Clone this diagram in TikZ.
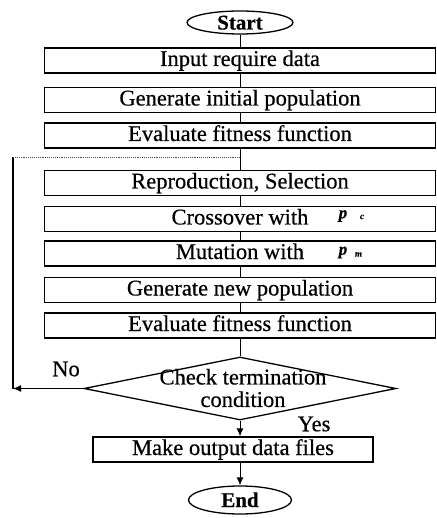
\documentclass[tikz,border=0pt]{standalone}
\usepackage{fontspec}
\setmainfont{Liberation Serif}[FakeBold=0.5]
\newfontfamily\heavyfont{Liberation Serif}[FakeBold=0.5]
\usetikzlibrary{shapes.geometric,arrows.meta}
\begin{document}
\begin{tikzpicture}[x=1pt,y=-1pt,
  stepbox/.style={draw,line width=1.3pt,minimum width=391pt,minimum height=25pt,inner sep=0pt,
    text height=15pt,text depth=4pt,font=\heavyfont\fontsize{22.5}{22.5}\selectfont},
  term/.style={draw,ellipse,line width=1.3pt,inner sep=0pt,text height=14pt,text depth=0pt,
    font=\heavyfont\bfseries\fontsize{21}{21}\selectfont},
  link/.style={line width=1pt},
  arrowlink/.style={link,-{Latex[length=8pt,width=7pt]}},
  lbl/.style={font=\heavyfont\fontsize{22.5}{22.5}\selectfont,inner sep=0pt},
  plabel/.style={inner sep=0pt,font=\heavyfont\fontsize{17}{17}\selectfont\itshape\bfseries},
  sublabel/.style={inner sep=0pt,font=\heavyfont\fontsize{9}{9}\selectfont\itshape\bfseries}
]
\useasboundingbox (0,0) rectangle (436,518);
\node[term,minimum width=106pt,minimum height=23pt] (start) at (240,22.5) {Start};
\node[stepbox] (b1) at (240,60.5) {Input require data};
\node[stepbox] (b2) at (240,100) {Generate initial population};
\node[stepbox] (b3) at (240,135.5) {Evaluate fitness function};
\node[stepbox] (b4) at (240,183) {Reproduction, Selection};
\node[stepbox] (b5) at (240,219) {Crossover with};
\node[stepbox] (b6) at (240,253.5) {Mutation with};
\node[stepbox] (b7) at (240,290) {Generate new population};
\node[stepbox] (b8) at (240,325.5) {Evaluate fitness function};
\node[plabel] (pc) at (343,216) {p};
\node[sublabel] (pcs) at (362,217) {c};
\node[plabel] (pm) at (343,252.5) {p};
\node[sublabel] (pms) at (358.5,254.5) {m};
\node[diamond,draw,line width=1.3pt,minimum width=312pt,minimum height=63pt,inner sep=0pt] (check) at (240,388.5) {};
\node[lbl,align=center] (checktext) at (243,388) {Check termination\\condition};
\node[stepbox,minimum width=280pt] (out) at (233,449.5) {Make output data files};
\node[term,minimum width=103pt,minimum height=28pt] (end) at (240,500) {End};
\node[lbl] (no) at (66,369) {No};
\node[lbl] (yes) at (314,424) {Yes};
\coordinate (lc) at (13,388.5);
\coordinate (tc) at (13,157);
\coordinate (jn) at (240,157);
\draw[link] (start) -- (b1);
\draw[link] (b1) -- (b2);
\draw[link] (b2) -- (b3);
\draw[link] (b3) -- (b4);
\draw[link] (b4) -- (b5);
\draw[link] (b5) -- (b6);
\draw[link] (b6) -- (b7);
\draw[link] (b7) -- (b8);
\draw[link] (b8) -- (check);
\draw[arrowlink] (check.south) -- (check.south |- out.north);
\draw[arrowlink] (end.north |- out.south) -- (end.north);
\draw[arrowlink] (check.west) -- (lc);
\draw[line width=1.3pt] (lc) -- (tc);
\draw[line width=0.9pt,densely dotted,black!70] (tc) -- (jn);
\end{tikzpicture}
\end{document}
